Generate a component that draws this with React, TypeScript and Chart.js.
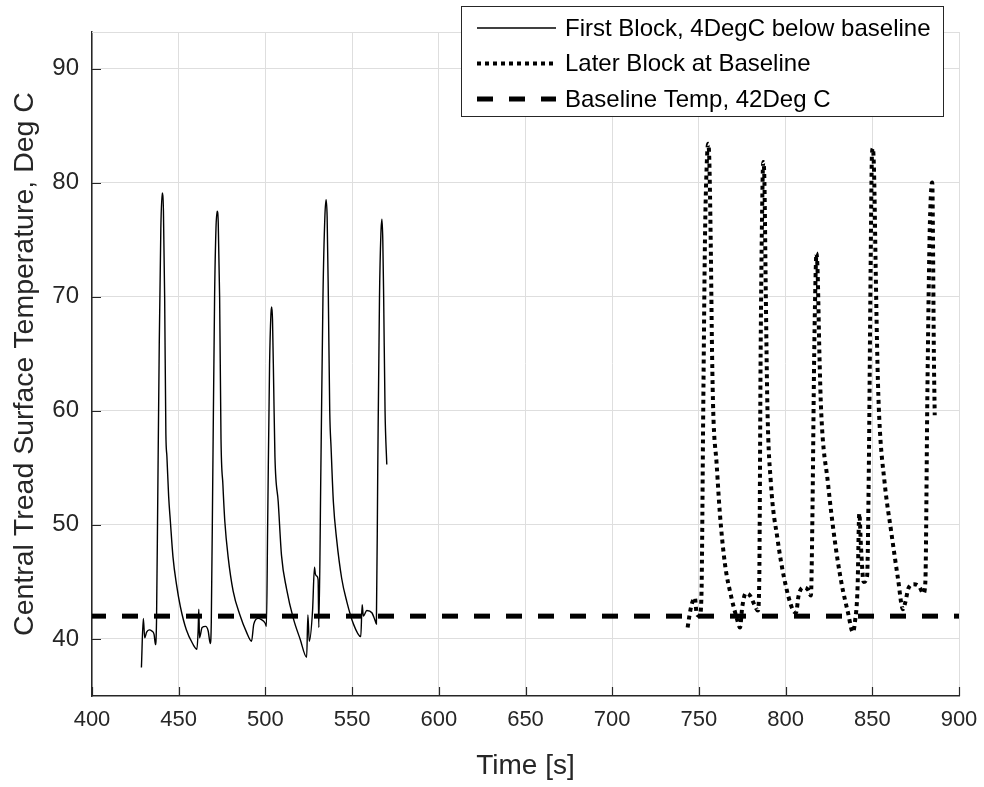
import React, { useEffect, useRef } from "react";
import { Chart, registerables } from "chart.js";

Chart.register(...registerables);

// Axis ticks
const xTicks = [400, 450, 500, 550, 600, 650, 700, 750, 800, 850, 900];
const yTicks = [40, 50, 60, 70, 80, 90];

// Series labels
const seriesLabels = [
  "First Block, 4DegC below baseline",
  "Later Block at Baseline",
  "Baseline Temp, 42Deg C",
];

// First block (solid)
const firstBlockTime = [
  428.5, 429.6, 430.4, 431.5, 433.0, 434.5, 435.8, 436.6, 437.2, 437.9, 438.8, 439.7, 440.5, 441.2, 441.9, 442.6,
  443.2, 444.2, 445.2, 446.7, 448.7, 451.0, 454.4, 458.0, 460.5, 461.2, 461.6, 462.0, 463.5, 465.5, 467.0, 468.2,
  468.8, 469.7, 470.7, 471.5, 472.2, 472.8, 473.6, 474.4, 475.5, 476.6, 478.5, 481.4, 485.3, 489.1, 492.0, 493.3,
  495.8, 497.7, 499.8, 500.6, 501.3, 502.4, 503.2, 503.6, 504.1, 504.8, 505.5, 507.4, 509.3, 512.2, 516.1, 520.0,
  523.8, 524.5, 525.3, 527.2, 528.3, 528.8, 529.7, 530.4, 530.8, 532.0, 533.2, 534.3, 535.0, 535.6, 536.3, 537.1,
  537.9, 539.2, 541.1, 544.0, 546.9, 550.8, 555.0, 555.8, 556.5, 558.5, 561.4, 563.3, 564.0, 564.8, 565.8, 566.6,
  567.2, 567.7, 568.2, 569.0, 570.0,
];
const firstBlockTemp = [
  37.5, 41.8, 40.1, 40.6, 40.8, 40.7, 40.4, 39.5, 41.5, 52.0, 66.0, 76.0, 79.1, 77.5, 70.0, 58.0,
  56.0, 52.5, 50.3, 47.2, 44.8, 42.8, 40.8, 39.6, 39.1, 40.7, 42.6, 40.1, 41.0, 41.1, 40.7, 39.6,
  41.5, 55.0, 70.0, 76.0, 77.5, 76.5, 70.0, 57.5, 53.5, 50.3, 47.2, 44.2, 42.1, 40.6, 39.8, 41.3,
  41.8, 41.7, 41.4, 41.1, 50.0, 64.0, 68.5, 69.1, 68.0, 62.0, 56.0, 52.0, 47.3, 44.4, 41.8, 40.0,
  38.4, 42.1, 39.8, 42.5, 46.3, 45.7, 45.5, 45.2, 41.0, 55.0, 70.0, 77.0, 78.5, 77.0, 70.0, 60.0,
  56.7, 52.0, 48.7, 45.3, 43.3, 41.3, 40.2, 43.0, 42.0, 42.5, 42.3, 41.6, 41.3, 55.0, 70.0, 75.5,
  76.8, 75.0, 70.0, 60.0, 55.3,
];

// Later block (dotted)
const laterBlockTime = [
  743.5, 744.5, 745.8, 747.7, 748.7, 750.5, 751.5, 752.5, 753.5, 754.5, 755.3, 756.0, 756.8, 757.6, 758.3, 760.2,
  762.1, 765.0, 768.8, 771.7, 773.7, 775.0, 777.0, 779.5, 782.0, 784.0, 784.8, 785.6, 786.5, 787.1, 787.8, 788.6,
  789.5, 791.5, 795.4, 799.2, 804.0, 806.0, 807.5, 810.0, 813.0, 814.6, 815.4, 816.5, 817.4, 817.8, 818.5, 819.5,
  820.5, 824.4, 828.3, 832.1, 836.0, 838.8, 840.0, 841.5, 842.5, 843.5, 845.0, 847.0, 848.0, 849.0, 849.8, 850.3,
  851.0, 852.0, 853.0, 854.0, 857.1, 861.0, 864.8, 867.7, 869.0, 871.0, 874.0, 877.0, 879.5, 880.6, 881.8, 883.0,
  884.0, 884.6, 885.0, 885.5, 886.0,
];
const laterBlockTemp = [
  41.0, 42.0, 43.0, 43.6, 42.2, 42.0, 44.0, 60.0, 75.0, 81.5, 83.4, 82.0, 75.0, 65.0, 59.8, 55.4,
  51.0, 46.6, 43.6, 41.9, 41.0, 42.8, 44.0, 43.8, 43.0, 42.5, 45.0, 65.0, 78.0, 81.8, 80.0, 70.0,
  60.4, 53.7, 48.7, 45.3, 42.6, 42.3, 43.8, 44.5, 44.3, 43.8, 50.0, 65.0, 72.5, 73.8, 72.0, 65.0,
  60.0, 53.7, 48.7, 45.0, 42.3, 40.6, 41.5, 44.5, 51.0, 48.0, 45.0, 45.5, 55.0, 72.0, 82.5, 83.0,
  81.0, 72.0, 64.0, 59.4, 53.7, 49.3, 45.3, 42.6, 43.2, 44.5, 44.8, 44.6, 44.0, 45.0, 62.0, 75.0,
  79.5, 80.0, 75.0, 65.0, 59.6,
];

// Baseline
const baselineTime = [400, 900];
const baselineTemp = [42, 42];

const FONT = '"Liberation Sans", Arial, Helvetica, sans-serif';
const AXIS_COLOR = "#262626";
const GRID_COLOR = "#dedede";

const toPoints = (xs: number[], ys: number[]) => xs.map((x, i) => ({ x, y: ys[i] }));

const decorPlugin = {
  id: "decor",
  afterDraw(chart: any) {
    const { ctx, chartArea, scales } = chart;
    ctx.save();
    // top frame line (light)
    ctx.strokeStyle = GRID_COLOR;
    ctx.lineWidth = 1;
    ctx.beginPath();
    ctx.moveTo(chartArea.left, chartArea.top + 0.5);
    ctx.lineTo(chartArea.right, chartArea.top + 0.5);
    ctx.stroke();
    // inward tick marks
    ctx.strokeStyle = AXIS_COLOR;
    ctx.lineWidth = 1.2;
    ctx.beginPath();
    xTicks.forEach((v) => {
      const px = Math.round(scales.x.getPixelForValue(v)) + 0.5;
      ctx.moveTo(px, chartArea.bottom);
      ctx.lineTo(px, chartArea.bottom - 9);
    });
    yTicks.forEach((v) => {
      const py = Math.round(scales.y.getPixelForValue(v)) + 0.5;
      ctx.moveTo(chartArea.left, py);
      ctx.lineTo(chartArea.left + 9, py);
    });
    ctx.stroke();

    // legend box
    const right = chartArea.right - 16;
    const left = right - 482;
    const top = 6;
    const height = 110;
    ctx.fillStyle = "#ffffff";
    ctx.fillRect(left, top, right - left, height);
    ctx.strokeStyle = AXIS_COLOR;
    ctx.lineWidth = 1;
    ctx.strokeRect(left + 0.5, top + 0.5, right - left, height);
    const order = [0, 1, 2];
    order.forEach((idx, i) => {
      const ds = chart.data.datasets[idx];
      const y = top + 22 + i * 35.5;
      ctx.beginPath();
      ctx.setLineDash(ds.borderDash || []);
      ctx.lineDashOffset = 0;
      ctx.lineCap = "butt";
      ctx.lineWidth = ds.borderWidth;
      ctx.strokeStyle = ds.borderColor;
      ctx.moveTo(left + 16, y);
      ctx.lineTo(left + 95, y);
      ctx.stroke();
      ctx.setLineDash([]);
      ctx.fillStyle = "#000000";
      ctx.font = `24px ${FONT}`;
      ctx.textBaseline = "middle";
      ctx.textAlign = "left";
      ctx.fillText(ds.label, left + 104, y + 1);
    });
    ctx.restore();
  },
};

export default function App() {
  const canvasRef = useRef<HTMLCanvasElement | null>(null);

  useEffect(() => {
    if (!canvasRef.current) return;
    const chart = new Chart(canvasRef.current, {
      type: "line",
      data: {
        datasets: [
          {
            label: seriesLabels[0],
            data: toPoints(firstBlockTime, firstBlockTemp),
            borderColor: "#000000",
            borderWidth: 1.4,
            pointRadius: 0,
            cubicInterpolationMode: "monotone",
            order: 1,
          },
          {
            label: seriesLabels[1],
            data: toPoints(laterBlockTime, laterBlockTemp),
            borderColor: "#000000",
            borderWidth: 4,
            borderDash: [4, 4],
            borderCapStyle: "butt",
            pointRadius: 0,
            cubicInterpolationMode: "monotone",
            order: 2,
          },
          {
            label: seriesLabels[2],
            data: toPoints(baselineTime, baselineTemp),
            borderColor: "#000000",
            borderWidth: 5,
            borderDash: [16, 16],
            borderDashOffset: 2,
            borderCapStyle: "butt",
            pointRadius: 0,
            order: 0,
          },
        ],
      },
      options: {
        animation: false,
        responsive: false,
        layout: { padding: { top: 32, right: 25, left: 0, bottom: 0 } },
        plugins: { legend: { display: false }, tooltip: { enabled: false } },
        scales: {
          x: {
            type: "linear",
            min: 400,
            max: 900,
            afterBuildTicks: (s: any) => {
              s.ticks = xTicks.map((v) => ({ value: v }));
            },
            afterFit: (s: any) => {
              s.height = 91;
              s.paddingLeft = 0;
              s.paddingRight = 0;
            },
            grid: { color: GRID_COLOR, drawTicks: false, lineWidth: 1 },
            border: { display: true, color: AXIS_COLOR, width: 1.5 },
            ticks: {
              color: AXIS_COLOR,
              font: { family: FONT, size: 22 },
              padding: 11,
              maxRotation: 0,
            },
            title: {
              display: true,
              text: "Time [s]",
              color: AXIS_COLOR,
              font: { family: FONT, size: 28 },
              padding: { top: 0, bottom: 4 },
            },
          },
          y: {
            type: "linear",
            min: 35,
            max: 93.2,
            afterBuildTicks: (s: any) => {
              s.ticks = yTicks.map((v) => ({ value: v }));
            },
            afterFit: (s: any) => {
              s.width = 92;
              s.paddingTop = 0;
              s.paddingBottom = 0;
            },
            grid: { color: GRID_COLOR, drawTicks: false, lineWidth: 1 },
            border: { display: true, color: AXIS_COLOR, width: 1.5 },
            ticks: {
              color: AXIS_COLOR,
              font: { family: FONT, size: 24 },
              padding: 13,
            },
            title: {
              display: true,
              text: "Central Tread Surface Temperature, Deg C",
              color: AXIS_COLOR,
              font: { family: FONT, size: 28.5 },
              padding: { top: 8, bottom: 0 },
            },
          },
        },
      },
      plugins: [decorPlugin],
    } as any);
    return () => chart.destroy();
  }, []);

  return (
    <div style={{ position: "absolute", left: 0, top: 0, width: 984, height: 787, background: "#fff" }}>
      <canvas ref={canvasRef} width={984} height={787} style={{ display: "block" }} />
    </div>
  );
}
